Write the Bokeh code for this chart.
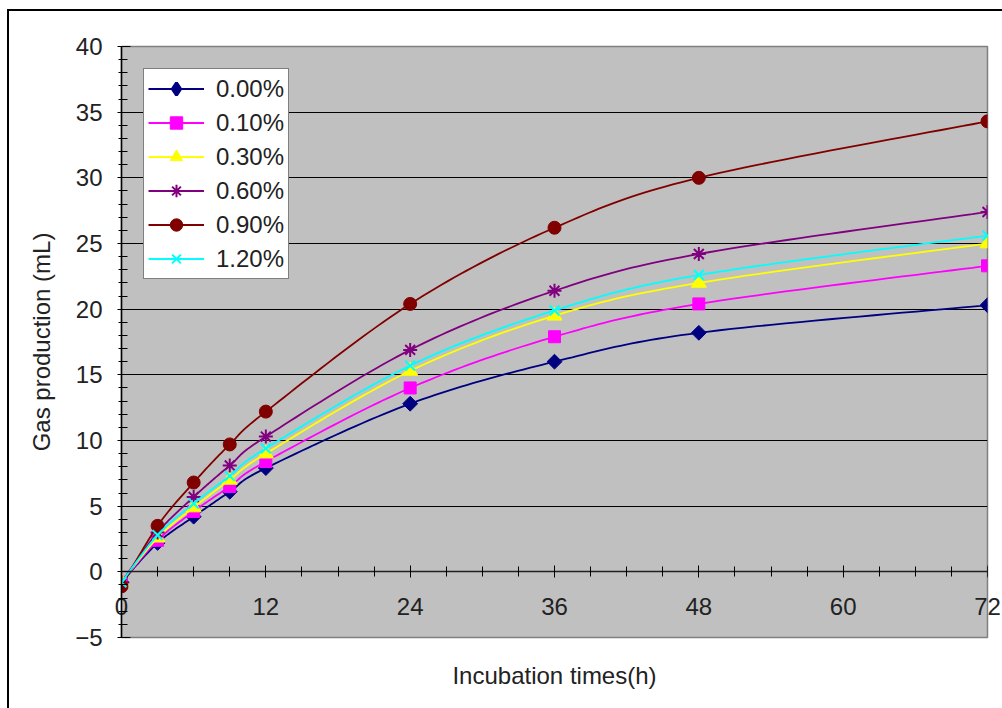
import numpy as np
from bokeh.plotting import figure
from bokeh.models import (LinearAxis, SingleIntervalTicker, Range1d, Legend, LegendItem,
                          ColumnDataSource)
from bokeh.embed import file_html
from bokeh.resources import INLINE

# ---------------- data ----------------
hours = [0, 3, 6, 9, 12, 24, 36, 48, 72]
series_names = ["0.00%", "0.10%", "0.30%", "0.60%", "0.90%", "1.20%"]
gas_000 = [-0.8, 2.2, 4.2, 6.1, 7.9, 12.8, 16.0, 18.2, 20.3]
gas_010 = [-0.8, 2.4, 4.6, 6.5, 8.4, 14.0, 17.9, 20.4, 23.3]
gas_030 = [-0.8, 2.6, 4.9, 7.0, 9.0, 15.3, 19.5, 22.0, 25.0]
gas_060 = [-0.8, 3.0, 5.7, 8.1, 10.3, 16.9, 21.4, 24.2, 27.4]
gas_090 = [-1.1, 3.5, 6.8, 9.7, 12.2, 20.4, 26.2, 30.0, 34.3]
gas_120 = [-0.8, 2.8, 5.2, 7.3, 9.4, 15.7, 19.9, 22.6, 25.6]
x_title = "Incubation times(h)"
y_title = "Gas production (mL)"

FONT = "Liberation Sans"
FS = "24px"
TXT = "#222222"

W, H = 1002, 708
L, R, T, B = 121, 15, 46, 71

p = figure(width=W, height=H, output_backend="svg", toolbar_location=None,
           x_range=Range1d(0, 72), y_range=Range1d(-5, 40),
           min_border_left=L, min_border_right=R,
           min_border_top=T, min_border_bottom=B)
p.background_fill_color = "#C0C0C0"
p.border_fill_color = None
p.outline_line_color = "#808080"
p.outline_line_width = 1.5
# outer chart border (only its left and top edges fall inside the picture)
p.styles = {
    "background": ("linear-gradient(#000,#000) 7px 9px / 2px 100% no-repeat, "
                   "linear-gradient(#000,#000) 7px 9px / 100% 2px no-repeat, white"),
}

# y axis
ya = p.yaxis[0]
ya.ticker = SingleIntervalTicker(interval=5, num_minor_ticks=5)
ya.axis_line_color = "black"
ya.axis_line_width = 1.5
ya.major_tick_in = 9
ya.major_tick_out = 4
ya.minor_tick_in = 6
ya.minor_tick_out = 3
ya.major_tick_line_color = "black"
ya.minor_tick_line_color = "black"
ya.major_label_standoff = 15
ya.major_label_text_font = FONT
ya.major_label_text_font_size = FS
ya.major_label_text_color = TXT
ya.axis_label = y_title
ya.axis_label_text_font = FONT
ya.axis_label_text_font_size = FS
ya.axis_label_text_font_style = "normal"
ya.axis_label_text_color = TXT
ya.axis_label_standoff = 17

# bottom axis: carries only the tick labels (drawn up inside the plot) and the title
xb = p.xaxis[0]
xb.ticker = SingleIntervalTicker(interval=12, num_minor_ticks=4)
xb.axis_line_color = None
xb.major_tick_line_color = None
xb.minor_tick_line_color = None
xb.major_tick_out = 0
xb.major_tick_in = 0
xb.major_label_standoff = -44
xb.major_label_text_font = FONT
xb.major_label_text_font_size = FS
xb.major_label_text_color = TXT
xb.axis_label = x_title
xb.axis_label_text_font = FONT
xb.axis_label_text_font_size = FS
xb.axis_label_text_font_style = "normal"
xb.axis_label_text_color = TXT
xb.axis_label_standoff = 44

# axis line with ticks at y = 0
xa = LinearAxis(fixed_location=0,
                ticker=SingleIntervalTicker(interval=12, num_minor_ticks=4))
xa.axis_line_color = "#202020"
xa.axis_line_width = 1.5
xa.major_tick_in = 6
xa.major_tick_out = 6
xa.minor_tick_in = 5
xa.minor_tick_out = 5
xa.major_tick_line_color = "black"
xa.minor_tick_line_color = "black"
xa.major_label_text_color = None
xa.major_label_text_font_size = "1px"
xa.major_label_standoff = 0
p.add_layout(xa, "above")

p.xgrid.visible = False
p.ygrid.ticker = SingleIntervalTicker(interval=5)
p.ygrid.grid_line_color = "black"
p.ygrid.grid_line_width = 1


def smooth(xs, ys, n=24, sx=12.03, sy=13.16):
    P = np.column_stack([np.asarray(xs, float) * sx, np.asarray(ys, float) * sy])
    out = []
    tt = np.linspace(0, 1, n)
    for i in range(len(P) - 1):
        p0 = P[i - 1] if i > 0 else P[i]
        p1, p2 = P[i], P[i + 1]
        p3 = P[i + 2] if i + 2 < len(P) else P[i + 1]
        c1 = p1 + (p2 - p0) / 6.0
        c2 = p2 - (p3 - p1) / 6.0
        seg = (((1 - tt) ** 3)[:, None] * p1 + (3 * (1 - tt) ** 2 * tt)[:, None] * c1
               + (3 * (1 - tt) * tt ** 2)[:, None] * c2 + (tt ** 3)[:, None] * p2)
        out.append(seg if i == 0 else seg[1:])
    S = np.vstack(out)
    return S[:, 0] / sx, S[:, 1] / sy


all_series = [gas_000, gas_010, gas_030, gas_060, gas_090, gas_120]
colors = ["#000080", "#FF00FF", "#FFFF00", "#800080", "#800000", "#00FFFF"]
markers = [("square", 10.5, np.pi / 4), ("square", 12, 0.0), ("triangle", 15, 0.0),
           ("asterisk", 14, 0.0), ("circle", 13, 0.0), ("x", 14, 0.0)]

items = []
for k, (name, vals, col, (mk, sz, ang)) in enumerate(
        zip(series_names, all_series, colors, markers)):
    lx, ly = smooth(hours, vals)
    lr = p.line(lx, ly, line_color=col, line_width=1.8)
    src = ColumnDataSource(dict(x=hours, y=vals))
    if mk in ("asterisk", "x"):
        sr = p.scatter("x", "y", source=src, marker=mk, size=sz, line_color=col,
                       line_width=2, fill_color=None)
    else:
        sr = p.scatter("x", "y", source=src, marker=mk, size=sz, angle=ang,
                       fill_color=col, line_color=col, line_width=1)
    if ang != 0:
        # legend swatch: the legend does not rotate markers, so use a diamond glyph
        sr_leg = p.scatter(x=[np.nan], y=[np.nan], marker="diamond", size=14,
                           fill_color=col, line_color=col, line_width=3)
        items.append(LegendItem(label=name, renderers=[lr, sr_leg]))
    else:
        items.append(LegendItem(label=name, renderers=[lr, sr]))

legend = Legend(items=items, location="top_left", margin=22)
legend.background_fill_color = "white"
legend.background_fill_alpha = 1
legend.border_line_color = "black"
legend.border_line_width = 1
legend.label_text_font = FONT
legend.label_text_font_size = FS
legend.label_text_color = TXT
legend.glyph_width = 56
legend.glyph_height = 31
legend.label_height = 31
legend.spacing = 3
legend.padding = 4
legend.label_standoff = 12
p.add_layout(legend)

open("out.html", "w").write(file_html(p, INLINE))
